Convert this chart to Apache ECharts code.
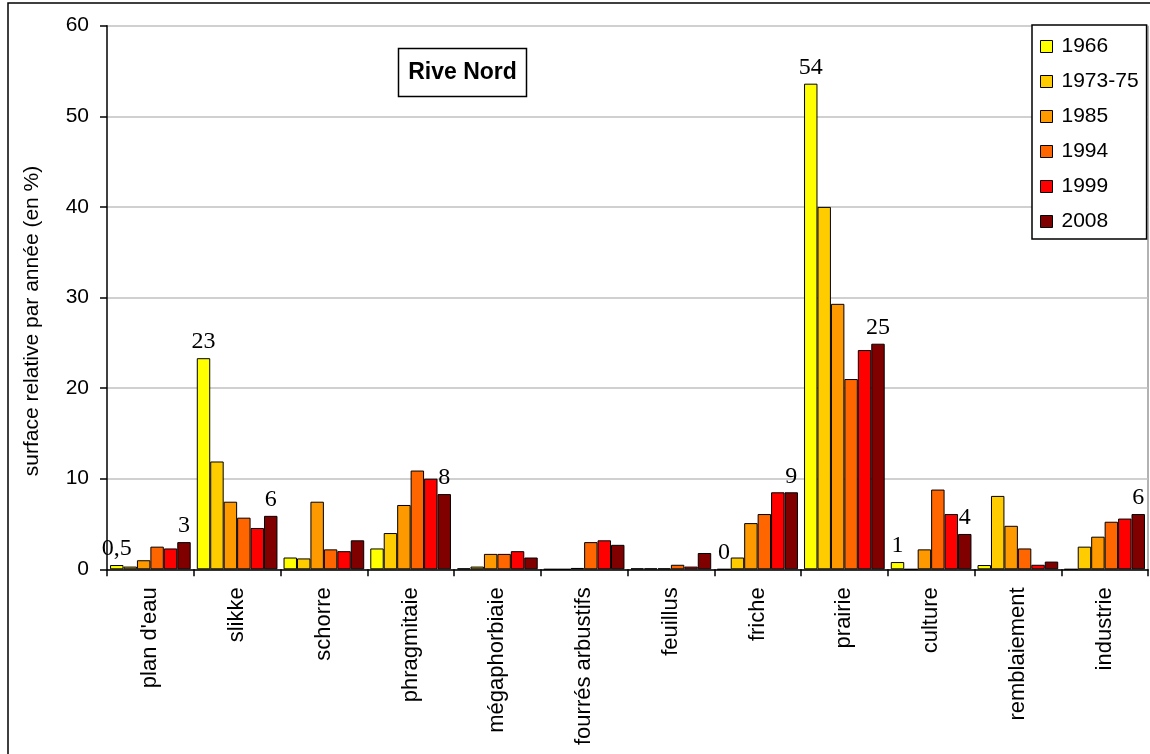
<!DOCTYPE html>
<html>
<head>
<meta charset="utf-8">
<script src="https://cdn.jsdelivr.net/npm/echarts@6/dist/echarts.min.js"></script>
<style>
  html, body { margin: 0; padding: 0; background: #fff; }
  #chart { width: 1150px; height: 754px; }
</style>
</head>
<body>
<div id="chart"></div>
<script>
// Land-cover classes on the north bank
var categories = ["plan d'eau", 'slikke', 'schorre', 'phragmitaie', 'mégaphorbiaie',
  'fourrés arbustifs', 'feuillus', 'friche', 'prairie', 'culture', 'remblaiement', 'industrie'];

var years = ['1966', '1973-75', '1985', '1994', '1999', '2008'];

// Relative surface per year (%)
var v1966   = [0.47, 23.3, 1.3, 2.3, 0.1, 0, 0.1, 0, 53.6, 0.8, 0.47, 0];
var v1973   = [0.3, 11.9, 1.2, 4.0, 0.3, 0, 0.1, 1.3, 40.0, 0, 8.1, 2.5];
var v1985   = [1.0, 7.46, 7.46, 7.1, 1.7, 0.15, 0.1, 5.1, 29.3, 2.2, 4.8, 3.6];
var v1994   = [2.5, 5.7, 2.2, 10.9, 1.7, 3.0, 0.5, 6.1, 21.0, 8.8, 2.3, 5.25];
var v1999   = [2.3, 4.56, 2.0, 10.0, 2.0, 3.2, 0.3, 8.5, 24.2, 6.1, 0.5, 5.6];
var v2008   = [3.0, 5.9, 3.2, 8.3, 1.3, 2.7, 1.8, 8.5, 24.9, 3.9, 0.85, 6.1];

var yTicks = [0, 10, 20, 30, 40, 50, 60];

// Annotated bars: [year index, category index, decimals shown]
var annotated = [
  [0, 0, 1], [5, 0, 0],
  [0, 1, 0], [5, 1, 0],
  [5, 3, 0],
  [0, 7, 0], [5, 7, 0],
  [0, 8, 0], [5, 8, 0],
  [0, 9, 0], [5, 9, 0],
  [5, 11, 0]
];

var colors = ['#FFFF00', '#FFCC00', '#FF9900', '#FF6600', '#FF0000', '#800000'];
var valueSets = [v1966, v1973, v1985, v1994, v1999, v2008];

function buildData(si) {
  return valueSets[si].map(function (v, ci) {
    var hit = annotated.filter(function (a) { return a[0] === si && a[1] === ci; })[0];
    if (!hit) return v;
    var txt = v.toFixed(hit[2]).replace('.', ',');
    return {
      value: v,
      label: {
        show: true,
        position: 'top',
        distance: 4,
        formatter: txt,
        fontFamily: 'Liberation Serif',
        fontSize: 24,
        color: '#000'
      }
    };
  });
}

var series = years.map(function (name, si) {
  return {
    name: name,
    type: 'bar',
    data: buildData(si),
    barGap: '0%',
    barCategoryGap: '7%',
    itemStyle: { color: colors[si], borderColor: '#000', borderWidth: 1 },
    emphasis: { disabled: true },
    animation: false
  };
});

var chart = echarts.init(document.getElementById('chart'), null, { renderer: 'canvas' });
chart.setOption({
  backgroundColor: '#fff',
  animation: false,
  grid: { left: 107, right: 2, top: 25.7, bottom: 184.7, containLabel: false },
  legend: {
    data: years,
    orient: 'vertical',
    left: 1032,
    top: 25,
    width: 116,
    padding: [11, 8, 7, 8],
    itemGap: 14,
    itemWidth: 12,
    itemHeight: 12,
    icon: 'rect',
    backgroundColor: '#fff',
    borderColor: '#000',
    borderWidth: 1.5,
    itemStyle: { borderColor: '#000', borderWidth: 1 },
    textStyle: {
      fontFamily: 'Liberation Sans',
      fontSize: 21,
      lineHeight: 21,
      color: '#000',
      padding: [0, 0, 0, 4]
    },
    selectedMode: false
  },
  xAxis: {
    type: 'category',
    data: categories,
    axisLine: { lineStyle: { color: '#000', width: 1.5 } },
    axisTick: { show: true, length: 7, alignWithLabel: false, lineStyle: { color: '#000', width: 1.5 } },
    axisLabel: {
      rotate: 90,
      margin: 18,
      interval: 0,
      fontFamily: 'Liberation Sans',
      fontSize: 22,
      color: '#000'
    },
    splitLine: { show: false }
  },
  yAxis: {
    type: 'value',
    min: yTicks[0],
    max: yTicks[yTicks.length - 1],
    interval: 10,
    axisLine: { show: true, lineStyle: { color: '#000', width: 1.5 } },
    axisTick: { show: true, length: 7, inside: false, lineStyle: { color: '#000', width: 1.5 } },
    axisLabel: {
      margin: 18,
      fontFamily: 'Liberation Sans',
      fontSize: 21,
      color: '#000'
    },
    splitLine: { show: true, lineStyle: { color: '#C0C0C0', width: 1.5 } }
  },
  graphic: [
    {
      type: 'rect',
      silent: true,
      shape: { x: 8, y: 3, width: 1200, height: 800 },
      style: { fill: 'none', stroke: '#000', lineWidth: 1.5 },
      z: -1
    },
    {
      type: 'line',
      silent: true,
      shape: { x1: 1148, y1: 25.7, x2: 1148, y2: 569.3 },
      style: { stroke: '#999', lineWidth: 1.5 },
      z: 0
    },
    {
      type: 'text',
      silent: true,
      x: 32,
      y: 321,
      rotation: Math.PI / 2,
      style: {
        text: 'surface relative par année (en %)',
        fontFamily: 'Liberation Sans',
        fontSize: 21,
        fill: '#000',
        align: 'center',
        verticalAlign: 'middle'
      }
    },
    {
      type: 'group',
      silent: true,
      children: [
        {
          type: 'rect',
          shape: { x: 398.5, y: 48.5, width: 128, height: 48 },
          style: { fill: '#fff', stroke: '#000', lineWidth: 1.5 }
        },
        {
          type: 'text',
          x: 462.5,
          y: 73,
          style: {
            text: 'Rive Nord',
            fontFamily: 'Liberation Sans',
            fontWeight: 'bold',
            fontSize: 23,
            fill: '#000',
            align: 'center',
            verticalAlign: 'middle'
          }
        }
      ],
      z: 10
    }
  ],
  series: series
});
</script>
</body>
</html>
